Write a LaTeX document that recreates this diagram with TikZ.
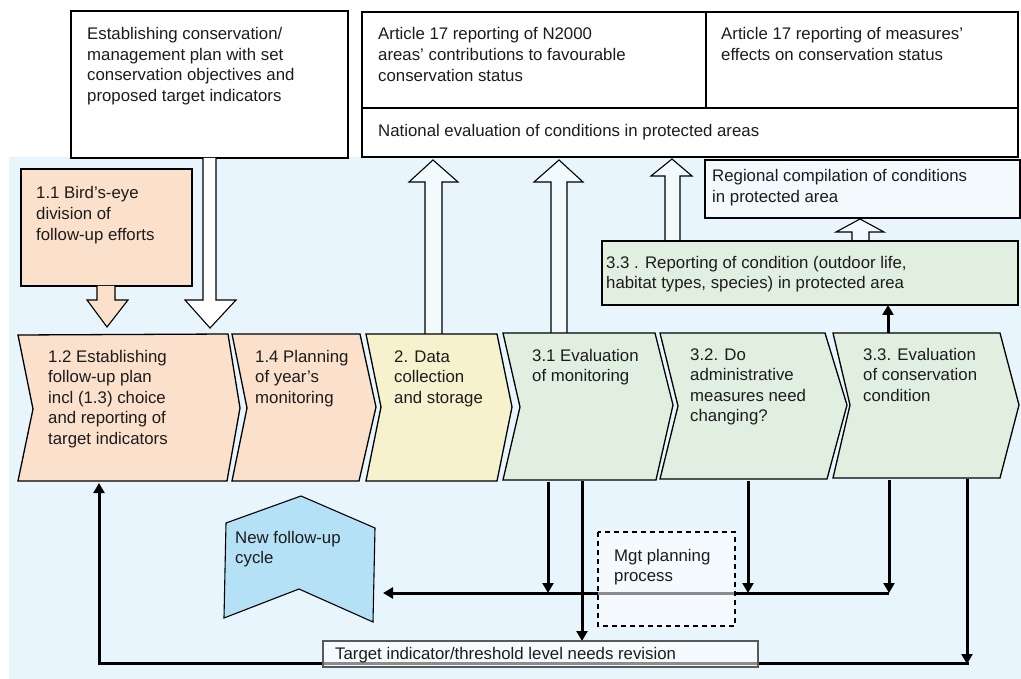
\documentclass[tikz,border=0pt]{standalone}
\usepackage{fontspec}
\setmainfont{Liberation Sans}
\usetikzlibrary{arrows.meta}

\definecolor{bgblue}{HTML}{E8F5FC}
\definecolor{peach}{HTML}{FBE1CB}
\definecolor{straw}{HTML}{F6F2CD}
\definecolor{sage}{HTML}{E1EFE0}
\definecolor{sky}{HTML}{B4E1F6}
\definecolor{paleblue}{HTML}{F3FAFD}
\definecolor{ink}{HTML}{1C1C1C}

% multi-line texts are placed by the baseline of their last line
\tikzset{
  txt/.style={anchor=base west, inner sep=0pt, align=left, text=ink,
    font=\fontsize{16.8}{20.6}\selectfont},
  rect/.style={draw=black, line width=1.2pt, inner sep=0pt, outer sep=0pt,
    anchor=north west, rectangle},
  chev/.style={draw=black, line width=1.3pt, line join=miter},
  hollow/.style={draw=black, line width=1.1pt, fill=paleblue, line join=miter},
  flow/.style={draw=black, line width=3pt, -{Triangle[length=10pt,width=11pt]}},
  veil/.style={fill=white, fill opacity=0.55},
}

\begin{document}
\begin{tikzpicture}[x=1pt,y=-1pt]
\useasboundingbox (0,0) rectangle (1021,679);
\fill[white] (0,0) rectangle (1021,679);
\fill[bgblue] (9,157) rectangle (1021,679);

% ---- reporting boxes at the top ----
\node[rect, fill=white, minimum width=277pt, minimum height=147pt] (plan) at (71,11) {};
\node[rect, fill=white, minimum width=344pt, minimum height=96pt] (artA) at (362,12) {};
\node[rect, fill=white, minimum width=312pt, minimum height=96pt] (artB) at (706,12) {};
\node[rect, fill=white, minimum width=656pt, minimum height=49pt] (natl) at (362,108) {};

% hollow arrow from the management plan down to the first step
\draw[hollow, fill=white] (203,158) -- (203,300) -- (185,300) -- (210,328) -- (236,300) -- (216,300) -- (216,158);

% 1.1 box with its own arrow
\node[rect, fill=peach, minimum width=171pt, minimum height=117pt] (b11) at (21,169) {};
\draw[hollow, fill=peach] (97,286) -- (97,300) -- (87,300) -- (107,327) -- (128,300) -- (115,300) -- (115,286);

% hollow arrows up to the national evaluation
\draw[hollow] (425,334) -- (425,182) -- (409,182) -- (433,160) -- (458,182) -- (442,182) -- (442,334);
\draw[hollow] (551,333) -- (551,182) -- (534,182) -- (559,160) -- (583,182) -- (567,182) -- (567,333);
\draw[hollow] (665,241) -- (665,176) -- (651,176) -- (672,159) -- (692,176) -- (680,176) -- (680,241);
\draw[hollow] (852,241) -- (852,232) -- (836,232) -- (860,219) -- (884,232) -- (869,232) -- (869,241);

% regional compilation and reporting of condition
\node[rect, fill=paleblue, minimum width=315pt, minimum height=58pt] (regn) at (705,160) {};
\node[rect, fill=sage, minimum width=416pt, minimum height=64pt] (rep) at (602,241) {};

% ---- process chevrons ----
\draw[chev, fill=peach] (18,335) -- (228,334) -- (240,408) -- (227,481) -- (18,481) -- (33,409) -- cycle;
\draw[chev, fill=peach] (232,334) -- (360,334) -- (376,407) -- (359,481) -- (232,481) -- (247,408) -- cycle;
\draw[chev, fill=straw] (366,334) -- (497,334) -- (512,407) -- (497,481) -- (366,481) -- (381,407) -- cycle;
\draw[chev, fill=sage] (503,333) -- (655,333) -- (673,405) -- (656,480) -- (503,480) -- (520,407) -- cycle;
\draw[chev, fill=sage] (660,333) -- (825,333) -- (847,405) -- (827,479) -- (660,479) -- (678,406) -- cycle;
\draw[chev, fill=sage] (833,333) -- (1000,333) -- (1019,405) -- (1000,478) -- (833,478) -- (850,405) -- cycle;

% new follow-up cycle
\draw[chev, line width=1.1pt, fill=sky] (226,523) -- (301,496) -- (375,528) -- (373,622) -- (299,589) -- (224,618) -- cycle;

% ---- connector end points ----
\coordinate (c12in) at (99,483);
\coordinate (s31a) at (548,482);
\coordinate (s31b) at (582,481);
\coordinate (s32) at (748,481);
\coordinate (s33a) at (889,480);
\coordinate (s33b) at (967,479);
\coordinate (n33) at (888,333);
\coordinate (busR) at (889,593);
\coordinate (cycin) at (383,593);
\coordinate (loopR) at (967,663);
\coordinate (loopL) at (99,663);

% mgt planning and target revision boxes (sizes only; drawn below)
\node[minimum width=137pt, minimum height=94pt, inner sep=0pt, outer sep=0pt, anchor=north west] (mgt) at (598,532) {};
\node[minimum width=435pt, minimum height=26pt, inner sep=0pt, outer sep=0pt, anchor=north west] (tgt) at (323,641) {};

% ---- black connectors ----
\draw[flow] (n33) -- (n33 |- rep.south);
\draw[flow] (busR) -- (cycin);
\draw[flow] (s31a) -- (s31a |- busR);
\draw[flow] (s32) -- (s32 |- busR);
\draw[flow] (s33a) -- (busR);
\draw[flow] (s31b) -- (s31b |- tgt.north);
\draw[flow] (s33b) -- ([yshift=-1pt]loopR);
\draw[flow] ([xshift=1.5pt]loopR) -- (loopL) -- (c12in);

% boxes laid over the connectors
\draw[veil, draw=black, draw opacity=1, line width=1.2pt, dash pattern=on 5pt off 4pt] (mgt.north west) rectangle (mgt.south east);
\draw[veil, draw=black!65, draw opacity=1, line width=1.2pt] (tgt.north west) rectangle (tgt.south east);

% ---- texts ----
\node[txt] (tplan) at (87,101.3) {Establishing conservation/\\management plan with set\\conservation objectives and\\proposed target indicators};
\node[txt] (tartA) at (378,81.2) {Article 17 reporting of N2000\\areas’ contributions to favourable\\conservation status};
\node[txt] (tartB) at (721,60.6) {Article 17 reporting of measures’\\effects on conservation status};
\node[txt] (tnatl) at (378,137) {National evaluation of conditions in protected areas};
\node[txt] (tregn) at (712,202.6) {Regional compilation of conditions\\in protected area};
\node[txt] (trep) at (606,288.6) {3.3 . Reporting of condition (outdoor life,\\habitat types, species) in protected area};
\node[txt] (tb11) at (36,240.2) {1.1 Bird’s-eye\\division of\\follow-up efforts};
\node[txt] (tc12) at (48,444.4) {1.2 Establishing\\follow-up plan\\incl (1.3) choice\\and reporting of\\target indicators};
\node[txt] (tc14) at (255,403.2) {1.4 Planning\\of year’s\\monitoring};
\node[txt] (tc2) at (394,403.2) {2. Data\\collection\\and storage};
\node[txt] (tc31) at (532,381.6) {3.1 Evaluation\\of monitoring};
\node[txt] (tc32) at (690,421.8) {3.2. Do\\administrative\\measures need\\changing?};
\node[txt] (tc33) at (863,401.2) {3.3. Evaluation\\of conservation\\condition};
\node[txt] (tcyc) at (235,563.6) {New follow-up\\cycle};
\node[txt] (tmgt) at (614,581.6) {Mgt planning\\process};
\node[txt] (ttgt) at (335,659) {Target indicator/threshold level needs revision};
\end{tikzpicture}
\end{document}
